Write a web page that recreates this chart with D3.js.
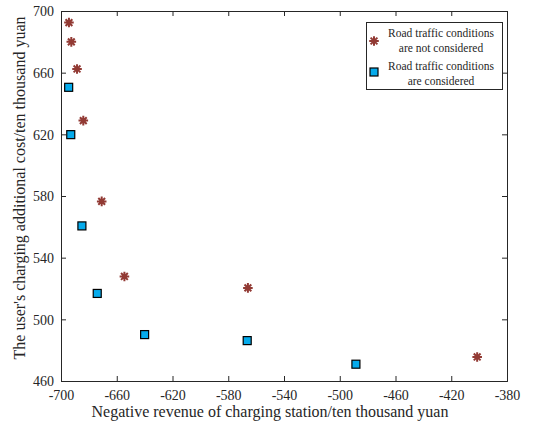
<!DOCTYPE html>
<html>
<head>
  <meta charset="utf-8">
  <title>Revenue vs cost</title>
  <script src="https://d3js.org/d3.v7.min.js"></script>
  <style>
    body { margin: 0; background: #fff; }
    text { font-family: "Liberation Serif", "Times New Roman", serif; fill: #262626; }
  </style>
</head>
<body>
  <svg id="grafico"></svg>

  <script>
    // road traffic not considered (stars)
    const sinTraficoX = [-694.3, -692.6, -688.5, -684.0, -670.8, -654.5, -565.9, -401.4];
    const sinTraficoY = [692.5, 680.0, 662.4, 628.9, 576.5, 527.8, 520.4, 475.6];
    // road traffic considered (squares)
    const conTraficoX = [-694.5, -693.0, -685.0, -674.0, -640.0, -566.4, -488.4];
    const conTraficoY = [650.5, 619.8, 560.6, 516.8, 490.1, 486.2, 470.9];

    const ticksX = [-700, -660, -620, -580, -540, -500, -460, -420, -380];
    const ticksY = [460, 500, 540, 580, 620, 660, 700];

    const leyenda = [
      ["Road traffic conditions", "are not considered"],
      ["Road traffic conditions", "are considered"]
    ];

    const ancho = 551, alto = 426;
    const m = { left: 61, right: 44, top: 11, bottom: 45 };

    const svg = d3.select("#grafico")
      .attr("width", ancho)
      .attr("height", alto);

    const x = d3.scaleLinear().domain([-700, -380]).range([m.left, ancho - m.right]);
    const y = d3.scaleLinear().domain([460, 700]).range([alto - m.bottom, m.top]);

    const colorEstrella = "#923a34";
    const colorCuadro = "#05abec";
    const etiqueta = d => String(d); // guion normal, no signo menos unicode

    // ejes con ticks hacia dentro en los cuatro lados
    const ejeAbajo = svg.append("g")
      .attr("transform", `translate(0,${y(460)})`)
      .call(d3.axisBottom(x).tickValues(ticksX).tickSize(-5).tickPadding(9).tickFormat(etiqueta));
    const ejeIzq = svg.append("g")
      .attr("transform", `translate(${x(-700)},0)`)
      .call(d3.axisLeft(y).tickValues(ticksY).tickSize(-5).tickPadding(7).tickFormat(etiqueta));
    const ejeArriba = svg.append("g")
      .attr("transform", `translate(0,${y(700)})`)
      .call(d3.axisTop(x).tickValues(ticksX).tickSize(-5).tickFormat(""));
    const ejeDer = svg.append("g")
      .attr("transform", `translate(${x(-380)},0)`)
      .call(d3.axisRight(y).tickValues(ticksY).tickSize(-5).tickFormat(""));

    [ejeAbajo, ejeIzq, ejeArriba, ejeDer].forEach(g => {
      g.select(".domain").attr("stroke", "#262626").attr("stroke-width", 1);
      g.selectAll(".tick line").attr("stroke", "#262626");
      g.selectAll("text").style("font-size", "14px").attr("fill", "#262626");
    });
    ejeIzq.selectAll("text").attr("dy", "0.35em");

    // marcador asterisco
    const estrella = r => {
      const d = r * Math.SQRT1_2;
      return `M${-r},0L${r},0M0,${-r}L0,${r}M${-d},${-d}L${d},${d}M${-d},${d}L${d},${-d}`;
    };

    svg.append("g").selectAll("path")
      .data(d3.zip(sinTraficoX, sinTraficoY))
      .join("path")
      .attr("transform", d => `translate(${x(d[0])},${y(d[1])})`)
      .attr("d", estrella(4.8))
      .attr("stroke", colorEstrella)
      .attr("stroke-width", 2)
      .attr("fill", "none");

    const lado = 8;
    svg.append("g").selectAll("rect")
      .data(d3.zip(conTraficoX, conTraficoY))
      .join("rect")
      .attr("x", d => x(d[0]) - lado / 2)
      .attr("y", d => y(d[1]) - lado / 2)
      .attr("width", lado)
      .attr("height", lado)
      .attr("fill", colorCuadro)
      .attr("stroke", "#000")
      .attr("stroke-width", 1.2);

    // titulos de ejes
    svg.append("text")
      .attr("x", 270)
      .attr("y", 417)
      .attr("text-anchor", "middle")
      .style("font-size", "16px")
      .text("Negative revenue of charging station/ten thousand yuan");

    svg.append("text")
      .attr("transform", "translate(19,188) rotate(-90)")
      .attr("text-anchor", "middle")
      .attr("dy", "0.35em")
      .style("font-size", "16px")
      .text("The user's charging additional cost/ten thousand yuan");

    // leyenda
    const ley = svg.append("g");
    ley.append("rect")
      .attr("x", 366.5).attr("y", 22.5)
      .attr("width", 136).attr("height", 67)
      .attr("fill", "#fff")
      .attr("stroke", "#262626")
      .attr("stroke-width", 1);

    leyenda.forEach((lineas, i) => {
      const base = 33 + i * 33;
      lineas.forEach((t, j) => {
        ley.append("text")
          .attr("x", 441)
          .attr("y", base + j * 15)
          .attr("dy", "0.35em")
          .attr("text-anchor", "middle")
          .style("font-size", "11.5px")
          .text(t);
      });
    });

    ley.append("path")
      .attr("transform", "translate(374,41)")
      .attr("d", estrella(4.8))
      .attr("stroke", colorEstrella)
      .attr("stroke-width", 2)
      .attr("fill", "none");
    ley.append("rect")
      .attr("x", 374 - lado / 2).attr("y", 72 - lado / 2)
      .attr("width", lado).attr("height", lado)
      .attr("fill", colorCuadro)
      .attr("stroke", "#000")
      .attr("stroke-width", 1.2);
  </script>
</body>
</html>
